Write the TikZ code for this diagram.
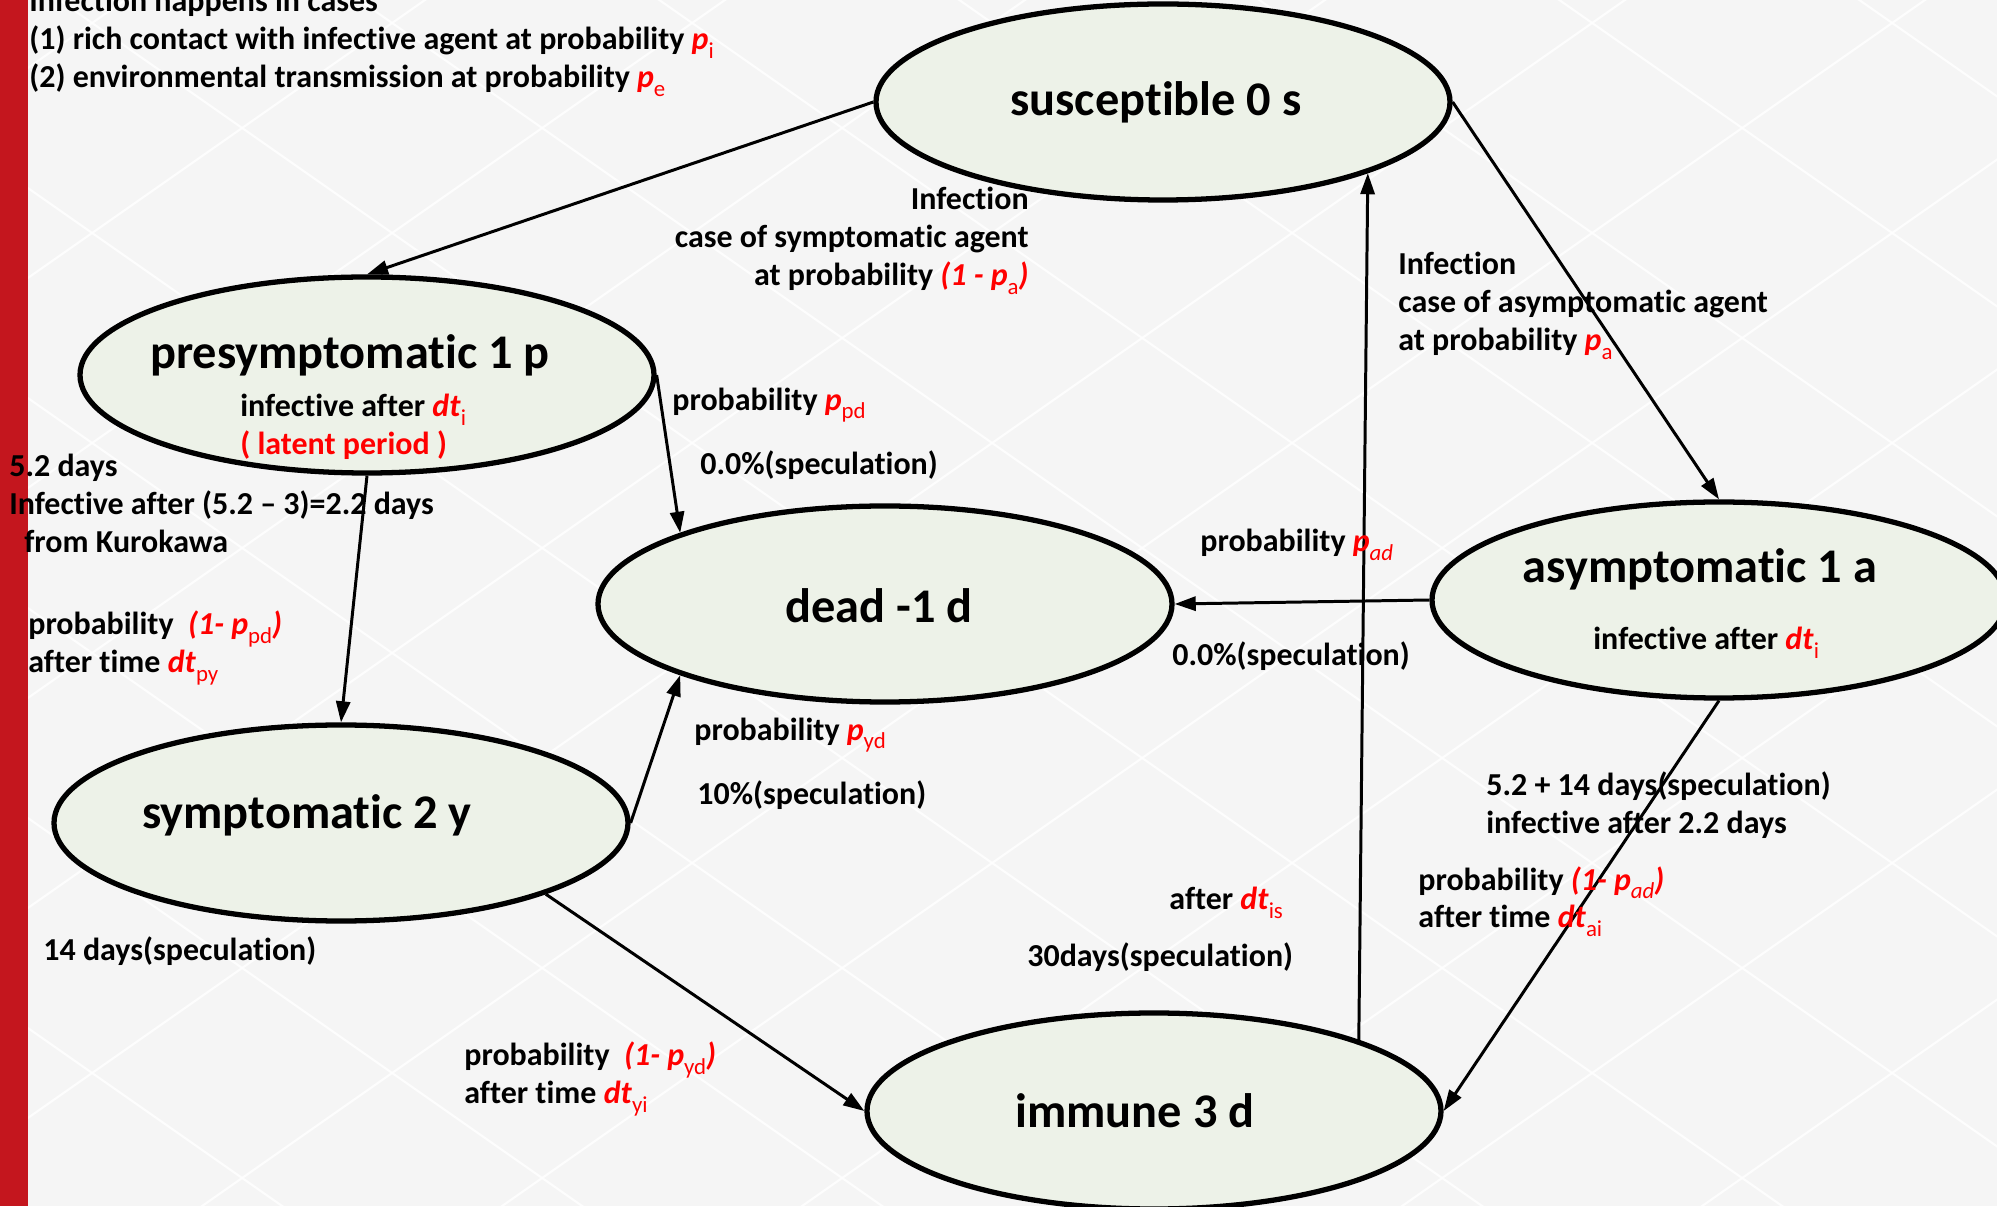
\documentclass[tikz,border=0pt]{standalone}
\usepackage{fontspec}
\setmainfont{Carlito}[Ligatures={TeX,NoCommon}]
\usetikzlibrary{arrows.meta,shapes.geometric}

\definecolor{pred}{RGB}{255,0,0}
\definecolor{barred}{RGB}{196,22,30}
\definecolor{bggray}{RGB}{245,245,245}
\definecolor{cellfill}{RGB}{237,242,232}

% small subscripts, upright and italic
\newcommand{\sbs}[1]{\raisebox{-0.55ex}{\fontsize{13}{13}\selectfont\mdseries\upshape #1}}
\newcommand{\sbi}[1]{\raisebox{-0.55ex}{\fontsize{13}{13}\selectfont\mdseries\itshape #1}}

\begin{document}
\begin{tikzpicture}[
  state/.style={ellipse,draw,line width=3pt,fill=cellfill,minimum width=11.48cm,minimum height=3.92cm,inner sep=0pt},
  title/.style={font=\fontsize{27.5}{32}\selectfont\bfseries,inner sep=0pt},
  note/.style={font=\fontsize{18.2}{21.6}\selectfont\bfseries,inner sep=0pt},
  link/.style={line width=1.7pt,-{Triangle[length=12pt,width=8pt]}}]

\useasboundingbox (0,0) rectangle (39.94,24.12);
\fill[bggray] (0,0) rectangle (39.94,24.12);
\begin{scope}
\clip (0,0) rectangle (39.94,24.12);
\foreach \k in {-8,...,7}
  \draw[white,line width=1.2pt,opacity=0.8] (0,1.37+\k*4.2) -- (40,29.37+\k*4.2);
\foreach \k in {-1,...,13}
  \draw[white,line width=1.2pt,opacity=0.8] (0,3.95+\k*4.2) -- (40,-24.05+\k*4.2);
\end{scope}
\fill[barred] (0,0) rectangle (0.56,24.12);

% states
\node[state] (sus) at (23.26,22.08) {};
\node[state] (pre) at (7.34,16.62) {};
\node[state] (dead) at (17.70,12.04) {};
\node[state] (asym) at (34.38,12.12) {};
\node[state] (sym) at (6.82,7.66) {};
\node[state] (imm) at (23.08,1.90) {};

\node[title] at ([xshift=-0.14cm]sus) {susceptible 0 s};
\node[title] at ([shift={(-0.34,0.40)}]pre) {presymptomatic 1 p};
\node[title] at ([shift={(-0.12,-0.04)}]dead) {dead -1 d};
\node[title] at ([shift={(-0.38,0.62)}]asym) {asymptomatic 1 a};
\node[title] at ([shift={(-0.68,0.16)}]sym) {symptomatic 2 y};
\node[title] at ([xshift=-0.38cm]imm) {immune 3 d};

% transitions
\draw[link] (sus.west) -- (pre.north);
\draw[link] (sus.east) -- (asym.north);
\draw[link] (pre.east) -- (dead.north west);
\draw[link] (pre.south) -- (sym.north);
\draw[link] (sym.east) -- (dead.south west);
\draw[link] (asym.west) -- (dead.east);
\draw[link] (sym.south east) -- (imm.west);
\draw[link] (asym.south) -- (imm.east);
\draw[link] (imm.north east) -- (sus.south east);

% labels
\node[note,anchor=west,align=left] (cases) at (0.58,23.26) {Infection happens in cases\\(1) rich contact with infective agent at probability \textcolor{pred}{\textit{p}\sbs{i}}\\(2) environmental transmission at probability \textcolor{pred}{\textit{p}\sbs{e}}};
\node[note,anchor=east,align=right] (symcase) at (20.58,19.30) {Infection\\case of symptomatic agent\\at probability \textcolor{pred}{\textit{(1 - p}\sbs{a}\textit{)}}};
\node[note,anchor=west,align=left] (asymcase) at (27.96,18.00) {Infection\\case of asymptomatic agent\\at probability \textcolor{pred}{\textit{p}\sbs{a}}};
\node[note,anchor=west,align=left] (preinfo) at (4.80,15.58) {infective after \textcolor{pred}{\textit{dt}\sbs{i}}\\\textcolor{pred}{( latent period )}};
\node[note,anchor=west] (ppd) at (13.44,16.02) {probability \textcolor{pred}{\textit{p}\sbs{pd}}};
\node[note,anchor=west] (spd) at (14.00,14.82) {0.0\%(speculation)};
\node[note,anchor=west,align=left] (kuro) at (0.18,14.06) {5.2 days\\Infective after (5.2 -- 3)=2.2 days\\\hspace*{0.3cm}from Kurokawa};
\node[note,anchor=west,align=left] (ppy) at (0.56,11.16) {probability \ \textcolor{pred}{\textit{(1- p}\sbs{pd}\textit{)}}\\after time \textcolor{pred}{\textit{dt}\sbs{py}}};
\node[note,anchor=west] (sy14) at (0.86,5.10) {14 days(speculation)};
\node[note,anchor=west] (pad) at (24.00,13.22) {probability \textcolor{pred}{\textit{p}\sbi{ad}}};
\node[note,anchor=west] (sad) at (23.44,11.00) {0.0\%(speculation)};
\node[note,anchor=west] (asyminfo) at (31.86,11.26) {infective after \textcolor{pred}{\textit{dt}\sbs{i}}};
\node[note,anchor=west] (pyd) at (13.88,9.42) {probability \textcolor{pred}{\textit{p}\sbs{yd}}};
\node[note,anchor=west] (syd) at (13.94,8.22) {10\%(speculation)};
\node[note,anchor=west,align=left] (aidays) at (29.72,8.02) {5.2 + 14 days(speculation)\\infective after 2.2 days};
\node[note,anchor=west,align=left] (pai) at (28.36,6.09) {probability \textcolor{pred}{\textit{(1- p}\sbi{ad}\textit{)}}\\after time \textcolor{pred}{\textit{dt}\sbs{ai}}};
\node[note,anchor=west] (dtis) at (23.38,6.06) {after \textcolor{pred}{\textit{dt}\sbs{is}}};
\node[note,anchor=west] (s30) at (20.54,4.98) {30days(speculation)};
\node[note,anchor=west,align=left] (pyi) at (9.28,2.54) {probability \ \textcolor{pred}{\textit{(1- p}\sbs{yd}\textit{)}}\\after time \textcolor{pred}{\textit{dt}\sbs{yi}}};
\end{tikzpicture}
\end{document}
